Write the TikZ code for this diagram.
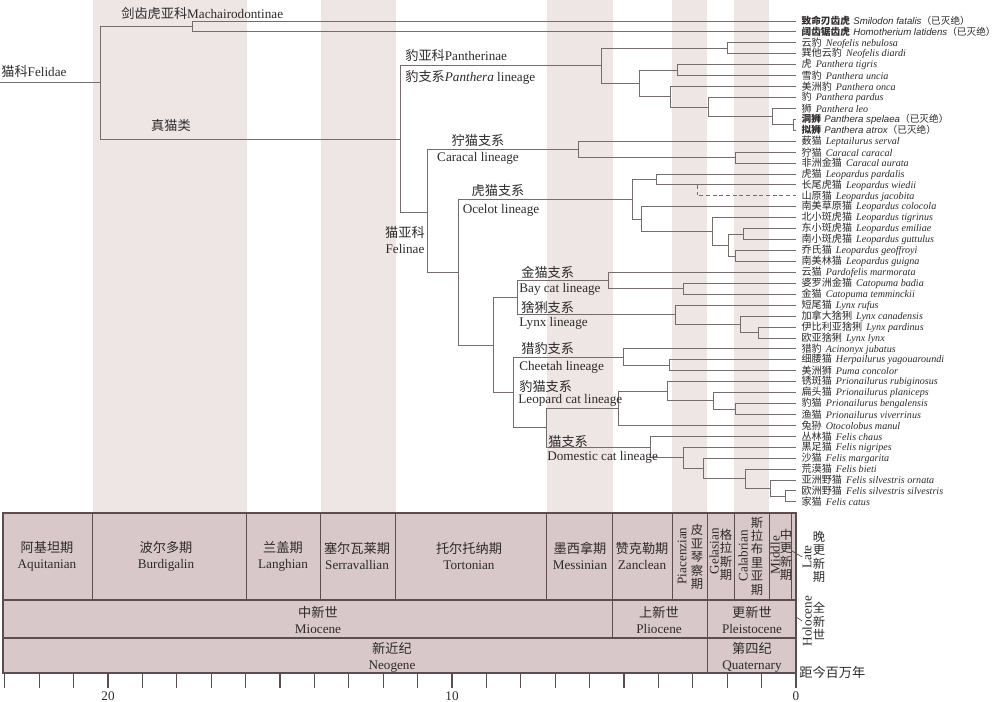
\documentclass[tikz,border=0pt]{standalone}
\usepackage{fontspec}
\setmainfont{Liberation Serif}
\newfontfamily\cjk{Noto Sans CJK SC}
\newfontfamily\sansit{Liberation Sans}
\definecolor{stripe}{RGB}{238,229,229}
\definecolor{cell}{RGB}{217,200,201}
\definecolor{rule}{RGB}{92,78,80}
\definecolor{branchc}{RGB}{118,108,110}
\definecolor{ink}{RGB}{45,42,42}
\newcommand\zh[1]{{\cjk #1}}
\newcommand\taxon[2]{\zh{#1}\hspace{0.4em}\textit{#2}}
\newcommand\fossil[2]{\fontsize{5.5}{6}\selectfont{\bfseries\zh{#1}}\hspace{0.35em}{\sansit\itshape #2}\zh{（已灭绝）}}

\begin{document}
\begin{tikzpicture}[x=0.02cm,y=-0.02cm,
  branch/.style={draw=branchc,line width=0.55pt},
  rule/.style={draw=rule,line width=0.6pt},
  leaf/.style={anchor=west,inner xsep=3pt,inner ysep=0pt,text=ink,font=\fontsize{5.75}{6}\selectfont},
  clade/.style={inner sep=0pt,text=ink,font=\fontsize{7.5}{9}\selectfont},
  stage/.style={align=center,inner sep=0pt,text=ink,font=\fontsize{7.5}{9}\selectfont},
  vstage/.style={align=center,inner sep=0pt,text=ink,font=\cjk\fontsize{7}{7.6}\selectfont},
  rstage/.style={rotate=90,inner sep=0pt,text=ink,font=\fontsize{7.5}{8}\selectfont}]
  \useasboundingbox (0,0) rectangle (1000,702);

  \fill[stripe] (92.9,0) rectangle (246.6,513);
  \fill[stripe] (320.6,0) rectangle (395.9,513);
  \fill[stripe] (546.7,0) rectangle (612.5,513);
  \fill[stripe] (672.2,0) rectangle (707.2,513);
  \fill[stripe] (734.1,0) rectangle (769.1,513);

  \node[leaf] (l1) at (796,21.0) {\fossil{致命刃齿虎}{Smilodon fatalis}};
  \node[leaf] (l2) at (796,31.9) {\fossil{阔齿锯齿虎}{Homotherium latidens}};
  \node[leaf] (l3) at (796,42.9) {\taxon{云豹}{Neofelis nebulosa}};
  \node[leaf] (l4) at (796,53.8) {\taxon{巽他云豹}{Neofelis diardi}};
  \node[leaf] (l5) at (796,64.7) {\taxon{虎}{Panthera tigris}};
  \node[leaf] (l6) at (796,75.7) {\taxon{雪豹}{Panthera uncia}};
  \node[leaf] (l7) at (796,86.6) {\taxon{美洲豹}{Panthera onca}};
  \node[leaf] (l8) at (796,97.5) {\taxon{豹}{Panthera pardus}};
  \node[leaf] (l9) at (796,108.4) {\taxon{狮}{Panthera leo}};
  \node[leaf] (l10) at (796,119.4) {\fossil{洞狮}{Panthera spelaea}};
  \node[leaf] (l11) at (796,130.3) {\fossil{拟狮}{Panthera atrox}};
  \node[leaf] (l12) at (796,141.2) {\taxon{薮猫}{Leptailurus serval}};
  \node[leaf] (l13) at (796,152.2) {\taxon{狞猫}{Caracal caracal}};
  \node[leaf] (l14) at (796,163.1) {\taxon{非洲金猫}{Caracal aurata}};
  \node[leaf] (l15) at (796,174.0) {\taxon{虎猫}{Leopardus pardalis}};
  \node[leaf] (l16) at (796,184.9) {\taxon{长尾虎猫}{Leopardus wiedii}};
  \node[leaf] (l17) at (796,195.9) {\taxon{山原猫}{Leopardus jacobita}};
  \node[leaf] (l18) at (796,206.8) {\taxon{南美草原猫}{Leopardus colocola}};
  \node[leaf] (l19) at (796,217.7) {\taxon{北小斑虎猫}{Leopardus tigrinus}};
  \node[leaf] (l20) at (796,228.7) {\taxon{东小斑虎猫}{Leopardus emiliae}};
  \node[leaf] (l21) at (796,239.6) {\taxon{南小斑虎猫}{Leopardus guttulus}};
  \node[leaf] (l22) at (796,250.5) {\taxon{乔氏猫}{Leopardus geoffroyi}};
  \node[leaf] (l23) at (796,261.5) {\taxon{南美林猫}{Leopardus guigna}};
  \node[leaf] (l24) at (796,272.4) {\taxon{云猫}{Pardofelis marmorata}};
  \node[leaf] (l25) at (796,283.3) {\taxon{婆罗洲金猫}{Catopuma badia}};
  \node[leaf] (l26) at (796,294.2) {\taxon{金猫}{Catopuma temminckii}};
  \node[leaf] (l27) at (796,305.2) {\taxon{短尾猫}{Lynx rufus}};
  \node[leaf] (l28) at (796,316.1) {\taxon{加拿大猞猁}{Lynx canadensis}};
  \node[leaf] (l29) at (796,327.0) {\taxon{伊比利亚猞猁}{Lynx pardinus}};
  \node[leaf] (l30) at (796,338.0) {\taxon{欧亚猞猁}{Lynx lynx}};
  \node[leaf] (l31) at (796,348.9) {\taxon{猎豹}{Acinonyx jubatus}};
  \node[leaf] (l32) at (796,359.8) {\taxon{细腰猫}{Herpailurus yagouaroundi}};
  \node[leaf] (l33) at (796,370.7) {\taxon{美洲狮}{Puma concolor}};
  \node[leaf] (l34) at (796,381.7) {\taxon{锈斑猫}{Prionailurus rubiginosus}};
  \node[leaf] (l35) at (796,392.6) {\taxon{扁头猫}{Prionailurus planiceps}};
  \node[leaf] (l36) at (796,403.5) {\taxon{豹猫}{Prionailurus bengalensis}};
  \node[leaf] (l37) at (796,414.5) {\taxon{渔猫}{Prionailurus viverrinus}};
  \node[leaf] (l38) at (796,425.4) {\taxon{兔狲}{Otocolobus manul}};
  \node[leaf] (l39) at (796,436.3) {\taxon{丛林猫}{Felis chaus}};
  \node[leaf] (l40) at (796,447.2) {\taxon{黑足猫}{Felis nigripes}};
  \node[leaf] (l41) at (796,458.2) {\taxon{沙猫}{Felis margarita}};
  \node[leaf] (l42) at (796,469.1) {\taxon{荒漠猫}{Felis bieti}};
  \node[leaf] (l43) at (796,480.0) {\taxon{亚洲野猫}{Felis silvestris ornata}};
  \node[leaf] (l44) at (796,490.9) {\taxon{欧洲野猫}{Felis silvestris silvestris}};
  \node[leaf] (l45) at (796,501.9) {\taxon{家猫}{Felis catus}};

  \coordinate (start) at (0,82.8);
  \coordinate (R) at (100,82.8);
  \coordinate (M) at (192,26.5);
  \coordinate (C) at (400,139);
  \coordinate (P) at (601,65.9);
  \coordinate (Nf) at (727,48.4);
  \coordinate (Pa) at (639,83.5);
  \coordinate (Pa1) at (677,70.2);
  \coordinate (Pa2) at (670,96.8);
  \coordinate (Pa3) at (708,107.1);
  \coordinate (Pa4) at (772,116.6);
  \coordinate (Pa5) at (793,124.9);
  \coordinate (F) at (427,212);
  \coordinate (Ca) at (578,149.4);
  \coordinate (Ca1) at (735,157.6);
  \coordinate (G1) at (458,272.2);
  \coordinate (Oc) at (632,199.3);
  \coordinate (Oc1) at (656,179.5);
  \coordinate (Jc) at (697,184.9);
  \coordinate (Oc2) at (641,219.1);
  \coordinate (Oc3) at (712,231.4);
  \coordinate (Oc4) at (728,245.1);
  \coordinate (Oc5) at (743,234.2);
  \coordinate (Oc6) at (735,256.0);
  \coordinate (G2) at (493,345);
  \coordinate (G3) at (517,297.7);
  \coordinate (Bc) at (608,280.6);
  \coordinate (Bc1) at (683,288.8);
  \coordinate (Lx) at (675,314.8);
  \coordinate (Lx1) at (740,324.3);
  \coordinate (Lx2) at (758,332.5);
  \coordinate (G4) at (513,392.4);
  \coordinate (Ch) at (623,357.1);
  \coordinate (Ch1) at (669,365.3);
  \coordinate (G5) at (546,427.7);
  \coordinate (Lc) at (618,408.4);
  \coordinate (Lc1) at (667,391.3);
  \coordinate (Lc2) at (713,400.8);
  \coordinate (Lc3) at (735,409.0);
  \coordinate (Dc) at (650,447.1);
  \coordinate (Dc1) at (683,457.8);
  \coordinate (Dc2) at (703,468.4);
  \coordinate (Dc3) at (745,478.7);
  \coordinate (Dc4) at (770,488.2);
  \coordinate (Dc5) at (785,496.4);

  \draw[branch] (start) -- (R);
  \draw[branch] (R) |- (M) (R) |- (C);
  \draw[branch] (M) |- (l1.west) (M) |- (l2.west);
  \draw[branch] (C) |- (P) (C) |- (F);
  \draw[branch] (P) |- (Nf) (P) |- (Pa);
  \draw[branch] (Nf) |- (l3.west) (Nf) |- (l4.west);
  \draw[branch] (Pa) |- (Pa1) (Pa) |- (Pa2);
  \draw[branch] (Pa1) |- (l5.west) (Pa1) |- (l6.west);
  \draw[branch] (Pa2) |- (l7.west) (Pa2) |- (Pa3);
  \draw[branch] (Pa3) |- (l8.west) (Pa3) |- (Pa4);
  \draw[branch] (Pa4) |- (l9.west) (Pa4) |- (Pa5);
  \draw[branch] (Pa5) |- (l10.west) (Pa5) |- (l11.west);
  \draw[branch] (F) |- (Ca) (F) |- (G1);
  \draw[branch] (Ca) |- (l12.west) (Ca) |- (Ca1);
  \draw[branch] (Ca1) |- (l13.west) (Ca1) |- (l14.west);
  \draw[branch] (G1) |- (Oc) (G1) |- (G2);
  \draw[branch] (Oc) |- (Oc1) (Oc) |- (Oc2);
  \draw[branch] (Oc1) |- (l15.west) (Oc1) |- (l16.west);
  \draw[branch,dash pattern=on 2.2pt off 1.6pt] (Jc) |- (l17.west);
  \draw[branch] (Oc2) |- (l18.west) (Oc2) |- (Oc3);
  \draw[branch] (Oc3) |- (l19.west) (Oc3) |- (Oc4);
  \draw[branch] (Oc4) |- (Oc5) (Oc4) |- (Oc6);
  \draw[branch] (Oc5) |- (l20.west) (Oc5) |- (l21.west);
  \draw[branch] (Oc6) |- (l22.west) (Oc6) |- (l23.west);
  \draw[branch] (G2) |- (G3) (G2) |- (G4);
  \draw[branch] (G3) |- (Bc) (G3) |- (Lx);
  \draw[branch] (Bc) |- (l24.west) (Bc) |- (Bc1);
  \draw[branch] (Bc1) |- (l25.west) (Bc1) |- (l26.west);
  \draw[branch] (Lx) |- (l27.west) (Lx) |- (Lx1);
  \draw[branch] (Lx1) |- (l28.west) (Lx1) |- (Lx2);
  \draw[branch] (Lx2) |- (l29.west) (Lx2) |- (l30.west);
  \draw[branch] (G4) |- (Ch) (G4) |- (G5);
  \draw[branch] (Ch) |- (l31.west) (Ch) |- (Ch1);
  \draw[branch] (Ch1) |- (l32.west) (Ch1) |- (l33.west);
  \draw[branch] (G5) |- (Lc) (G5) |- (Dc);
  \draw[branch] (Lc) |- (Lc1) (Lc) |- (l38.west);
  \draw[branch] (Lc1) |- (l34.west) (Lc1) |- (Lc2);
  \draw[branch] (Lc2) |- (l35.west) (Lc2) |- (Lc3);
  \draw[branch] (Lc3) |- (l36.west) (Lc3) |- (l37.west);
  \draw[branch] (Dc) |- (l39.west) (Dc) |- (Dc1);
  \draw[branch] (Dc1) |- (l40.west) (Dc1) |- (Dc2);
  \draw[branch] (Dc2) |- (l41.west) (Dc2) |- (Dc3);
  \draw[branch] (Dc3) |- (l42.west) (Dc3) |- (Dc4);
  \draw[branch] (Dc4) |- (l43.west) (Dc4) |- (Dc5);
  \draw[branch] (Dc5) |- (l44.west) (Dc5) |- (l45.west);

  \node[clade,anchor=west] (felidae) at (1,71) {\zh{猫科}Felidae};
  \node[clade,anchor=west] (machai) at (121,13) {\zh{剑齿虎亚科}Machairodontinae};
  \node[clade] (zhenmao) at (171,125) {\zh{真猫类}};
  \node[clade,anchor=west] (pantherinae) at (405,55) {\zh{豹亚科}Pantherinae};
  \node[clade,anchor=west] (pantheralin) at (405,77) {\zh{豹支系}\textit{Panthera} lineage};
  \node[clade,align=center] (felinae) at (405,240) {\zh{猫亚科}\\Felinae};
  \node[clade] (caracalzh) at (478,140) {\zh{狞猫支系}};
  \node[clade] (caracalen) at (478,158) {Caracal lineage};
  \node[clade] (ocelotzh) at (498,191) {\zh{虎猫支系}};
  \node[clade] (oceloten) at (501,210) {Ocelot lineage};
  \node[clade,anchor=west] (baycatzh) at (521,272) {\zh{金猫支系}};
  \node[clade,anchor=west] (baycaten) at (519,289) {Bay cat lineage};
  \node[clade,anchor=west] (lynxzh) at (521,307) {\zh{猞猁支系}};
  \node[clade,anchor=west] (lynxen) at (519,323) {Lynx lineage};
  \node[clade,anchor=west] (cheetahzh) at (521,348) {\zh{猎豹支系}};
  \node[clade,anchor=west] (cheetahen) at (519,367) {Cheetah lineage};
  \node[clade,anchor=west] (leopcatzh) at (519,386) {\zh{豹猫支系}};
  \node[clade,anchor=west] (leopcaten) at (518,400) {Leopard cat lineage};
  \node[clade,anchor=west] (domcatzh) at (548,441) {\zh{猫支系}};
  \node[clade,anchor=west] (domcaten) at (547,457) {Domestic cat lineage};

  \filldraw[rule,fill=cell] (3,513) rectangle (796,673);
  \draw[rule] (3,600) -- (796,600) (3,638) -- (796,638);
  \foreach \x in {92.9,246.6,320.6,395.9,546.7,612.5,672.2,707.2,734.1,769.1,791.7}
    \draw[rule] (\x,513) -- (\x,600);
  \draw[rule] (612.5,600) -- (612.5,638) (707.2,600) -- (707.2,673);

  \node[stage] (aquitanian) at (47,556) {\zh{阿基坦期}\\Aquitanian};
  \node[stage] (burdigalin) at (166,556) {\zh{波尔多期}\\Burdigalin};
  \node[stage] (langhian) at (283,556) {\zh{兰盖期}\\Langhian};
  \node[stage] (serravallian) at (357,556) {\zh{塞尔瓦莱期}\\Serravallian};
  \node[stage] (tortonian) at (469,556) {\zh{托尔托纳期}\\Tortonian};
  \node[stage] (messinian) at (580,556) {\zh{墨西拿期}\\Messinian};
  \node[stage] (zanclean) at (642,556) {\zh{赞克勒期}\\Zanclean};
  \node[rstage] (piacenzian) at (682,556) {Piacenzian};
  \node[vstage] (piacenzianzh) at (697,557) {皮\\亚\\琴\\察\\期};
  \node[rstage] (gelasian) at (714,551) {Gelasian};
  \node[vstage] (gelasianzh) at (726,555) {格\\拉\\斯\\期};
  \node[rstage] (calabrian) at (743,556) {Calabrian};
  \node[vstage] (calabrianzh) at (757,556) {斯\\拉\\布\\里\\亚\\期};
  \node[rstage] (middle) at (775,555) {Middle};
  \node[vstage] (middlezh) at (786,555) {中\\更\\新\\期};
  \node[rstage] (late) at (807,557) {Late};
  \node[vstage] (latezh) at (819,557) {晚\\更\\新\\期};
  \node[rstage] (holocene) at (807,621) {Holocene};
  \node[vstage] (holocenezh) at (819,621) {全\\新\\世};
  \coordinate (lateend) at (792,551);
  \coordinate (holoend) at (796,617);
  \draw[rule,line width=0.4pt] (lateend) -- (late.north);
  \draw[rule,line width=0.4pt] (holoend) -- (holocene.north);

  \node[stage] (miocene) at (318,620) {\zh{中新世}\\Miocene};
  \node[stage] (pliocene) at (659,620) {\zh{上新世}\\Pliocene};
  \node[stage] (pleistocene) at (752,620) {\zh{更新世}\\Pleistocene};
  \node[stage] (neogene) at (392,657) {\zh{新近纪}\\Neogene};
  \node[stage] (quaternary) at (752,657) {\zh{第四纪}\\Quaternary};
  \node[clade,anchor=west] (unit) at (799,672) {\zh{距今百万年}};

  \foreach \k in {0,...,23}
    \draw[rule] ({796-34.4*\k},673) -- ++(0,15);
  \node[clade] (t20) at (108,696) {20};
  \node[clade] (t10) at (452,696) {10};
  \node[clade] (t0) at (796,696) {0};
\end{tikzpicture}
\end{document}
